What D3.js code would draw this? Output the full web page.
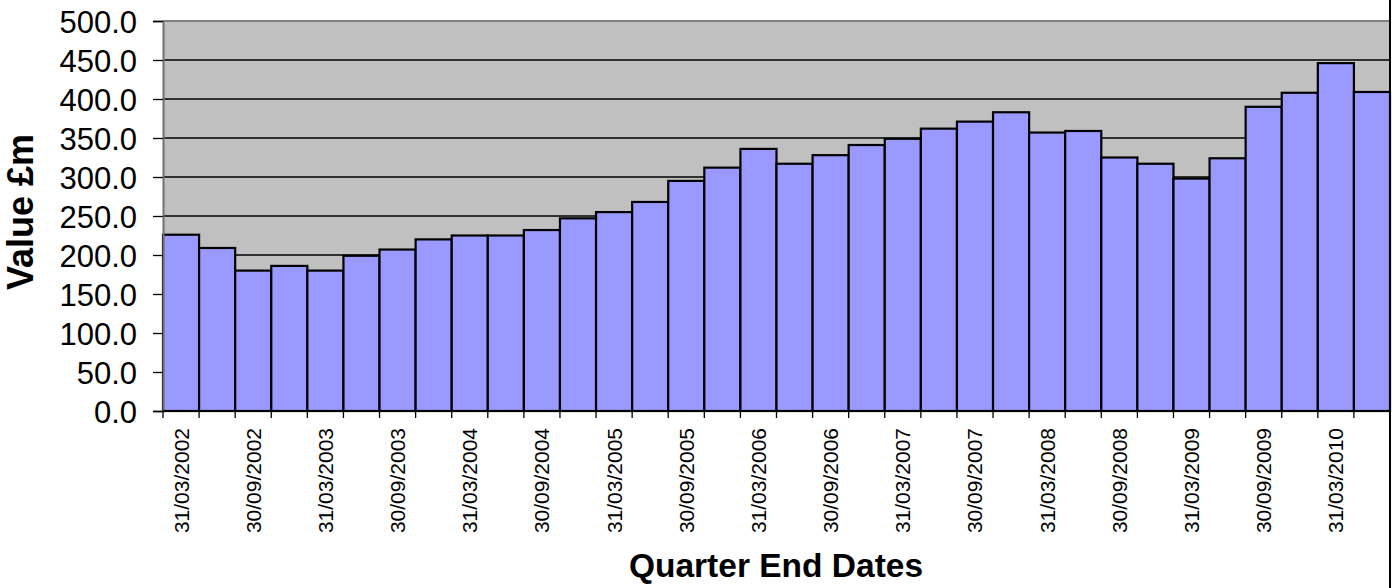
<!DOCTYPE html>
<html>
<head>
<meta charset="utf-8">
<script src="https://cdn.jsdelivr.net/npm/d3@7"></script>
<style>
  body { margin: 0; background: #fff; }
  text { font-family: Arial, "Liberation Sans", sans-serif; fill: #000; }
</style>
</head>
<body>
<div id="chart"></div>
<script>
// quarter end dates, 2002 Q1 .. 2010 Q2
var quarters = [
  "31/03/2002","30/06/2002","30/09/2002","31/12/2002",
  "31/03/2003","30/06/2003","30/09/2003","31/12/2003",
  "31/03/2004","30/06/2004","30/09/2004","31/12/2004",
  "31/03/2005","30/06/2005","30/09/2005","31/12/2005",
  "31/03/2006","30/06/2006","30/09/2006","31/12/2006",
  "31/03/2007","30/06/2007","30/09/2007","31/12/2007",
  "31/03/2008","30/06/2008","30/09/2008","31/12/2008",
  "31/03/2009","30/06/2009","30/09/2009","31/12/2009",
  "31/03/2010","30/06/2010"
];
// value £m
var values = [
  226, 209, 180, 186,
  180, 199, 207, 220,
  225, 225, 232, 247,
  255, 268, 295, 312,
  336, 317, 328, 341,
  349, 362, 371, 383,
  357, 359, 325, 317,
  298, 324, 390, 408,
  446, 409
];
var yTicks = [0, 50, 100, 150, 200, 250, 300, 350, 400, 450, 500];

var W = 1399, H = 588;
// plot area edges (don't use "top", it's window.top)
var pLeft = 163, pRight = 1390, pTop = 21, pBottom = 411;

var svg = d3.select("#chart").append("svg")
  .attr("width", W)
  .attr("height", H);

var x = d3.scaleBand().domain(quarters).range([pLeft, pRight]).padding(0);
var y = d3.scaleLinear().domain([0, 500]).range([pBottom, pTop]);

// plot area
svg.append("rect")
  .attr("x", pLeft).attr("y", pTop)
  .attr("width", pRight - pLeft).attr("height", pBottom - pTop)
  .style("fill", "#c0c0c0");

// gridlines
svg.selectAll(".grid")
  .data(yTicks.filter(function(d){ return d > 0 && d < 500; }))
  .enter()
  .append("line")
    .attr("class", "grid")
    .attr("x1", pLeft).attr("x2", pRight)
    .attr("y1", function(d){ return y(d); })
    .attr("y2", function(d){ return y(d); })
    .style("stroke", "#000")
    .style("stroke-width", 1.3);

// top border of plot area
svg.append("line")
  .attr("x1", pLeft).attr("x2", pRight)
  .attr("y1", pTop).attr("y2", pTop)
  .style("stroke", "#808080")
  .style("stroke-width", 2);

// bars
svg.selectAll(".bar")
  .data(values)
  .enter()
  .append("rect")
    .attr("class", "bar")
    .attr("x", function(d, i){ return x(quarters[i]); })
    .attr("y", function(d){ return y(d); })
    .attr("width", x.bandwidth())
    .attr("height", function(d){ return y(0) - y(d); })
    .style("fill", "#9999ff")
    .style("stroke", "#000")
    .style("stroke-width", 2.2);

// y axis
var yAxis = svg.append("g")
  .attr("transform", "translate(" + pLeft + ",0)")
  .call(d3.axisLeft(y).tickValues(yTicks).tickFormat(d3.format(".1f")).tickSize(10).tickPadding(16));
yAxis.select(".domain").style("stroke", "#707070").style("stroke-width", 2);
yAxis.selectAll(".tick line").style("stroke", "#000").style("stroke-width", 1.3);
yAxis.selectAll(".tick text")
  .style("font-size", "31px")
  .attr("dy", "0.36em");

// x axis line
svg.append("line")
  .attr("x1", pLeft).attr("x2", pRight)
  .attr("y1", pBottom).attr("y2", pBottom)
  .style("stroke", "#000")
  .style("stroke-width", 2);

// x ticks at band edges
var edges = quarters.map(function(q){ return x(q); }).concat([pRight]);
svg.selectAll(".xtick")
  .data(edges)
  .enter()
  .append("line")
    .attr("class", "xtick")
    .attr("x1", function(d){ return d; })
    .attr("x2", function(d){ return d; })
    .attr("y1", pBottom).attr("y2", pBottom + 7)
    .style("stroke", "#000")
    .style("stroke-width", 1.3);

// x labels, every second quarter
svg.selectAll(".xlabel")
  .data(quarters.filter(function(d, i){ return i % 2 == 0; }))
  .enter()
  .append("text")
    .attr("class", "xlabel")
    .attr("transform", function(d){
      return "translate(" + (x(d) + x.bandwidth() / 2 + 7.5) + "," + 428 + ") rotate(-90)";
    })
    .attr("text-anchor", "end")
    .style("font-size", "21px")
    .text(function(d){ return d; });

// axis titles
svg.append("text")
  .attr("x", 776).attr("y", 577)
  .attr("text-anchor", "middle")
  .style("font-size", "33.5px")
  .style("font-weight", "bold")
  .text("Quarter End Dates");

svg.append("text")
  .attr("transform", "translate(33,212) rotate(-90)")
  .attr("text-anchor", "middle")
  .style("font-size", "36px")
  .style("font-weight", "bold")
  .text("Value £m");

// chart area border at right
svg.append("line")
  .attr("x1", 1390).attr("x2", 1390)
  .attr("y1", 0).attr("y2", H)
  .style("stroke", "#000")
  .style("stroke-width", 2);
</script>
</body>
</html>
